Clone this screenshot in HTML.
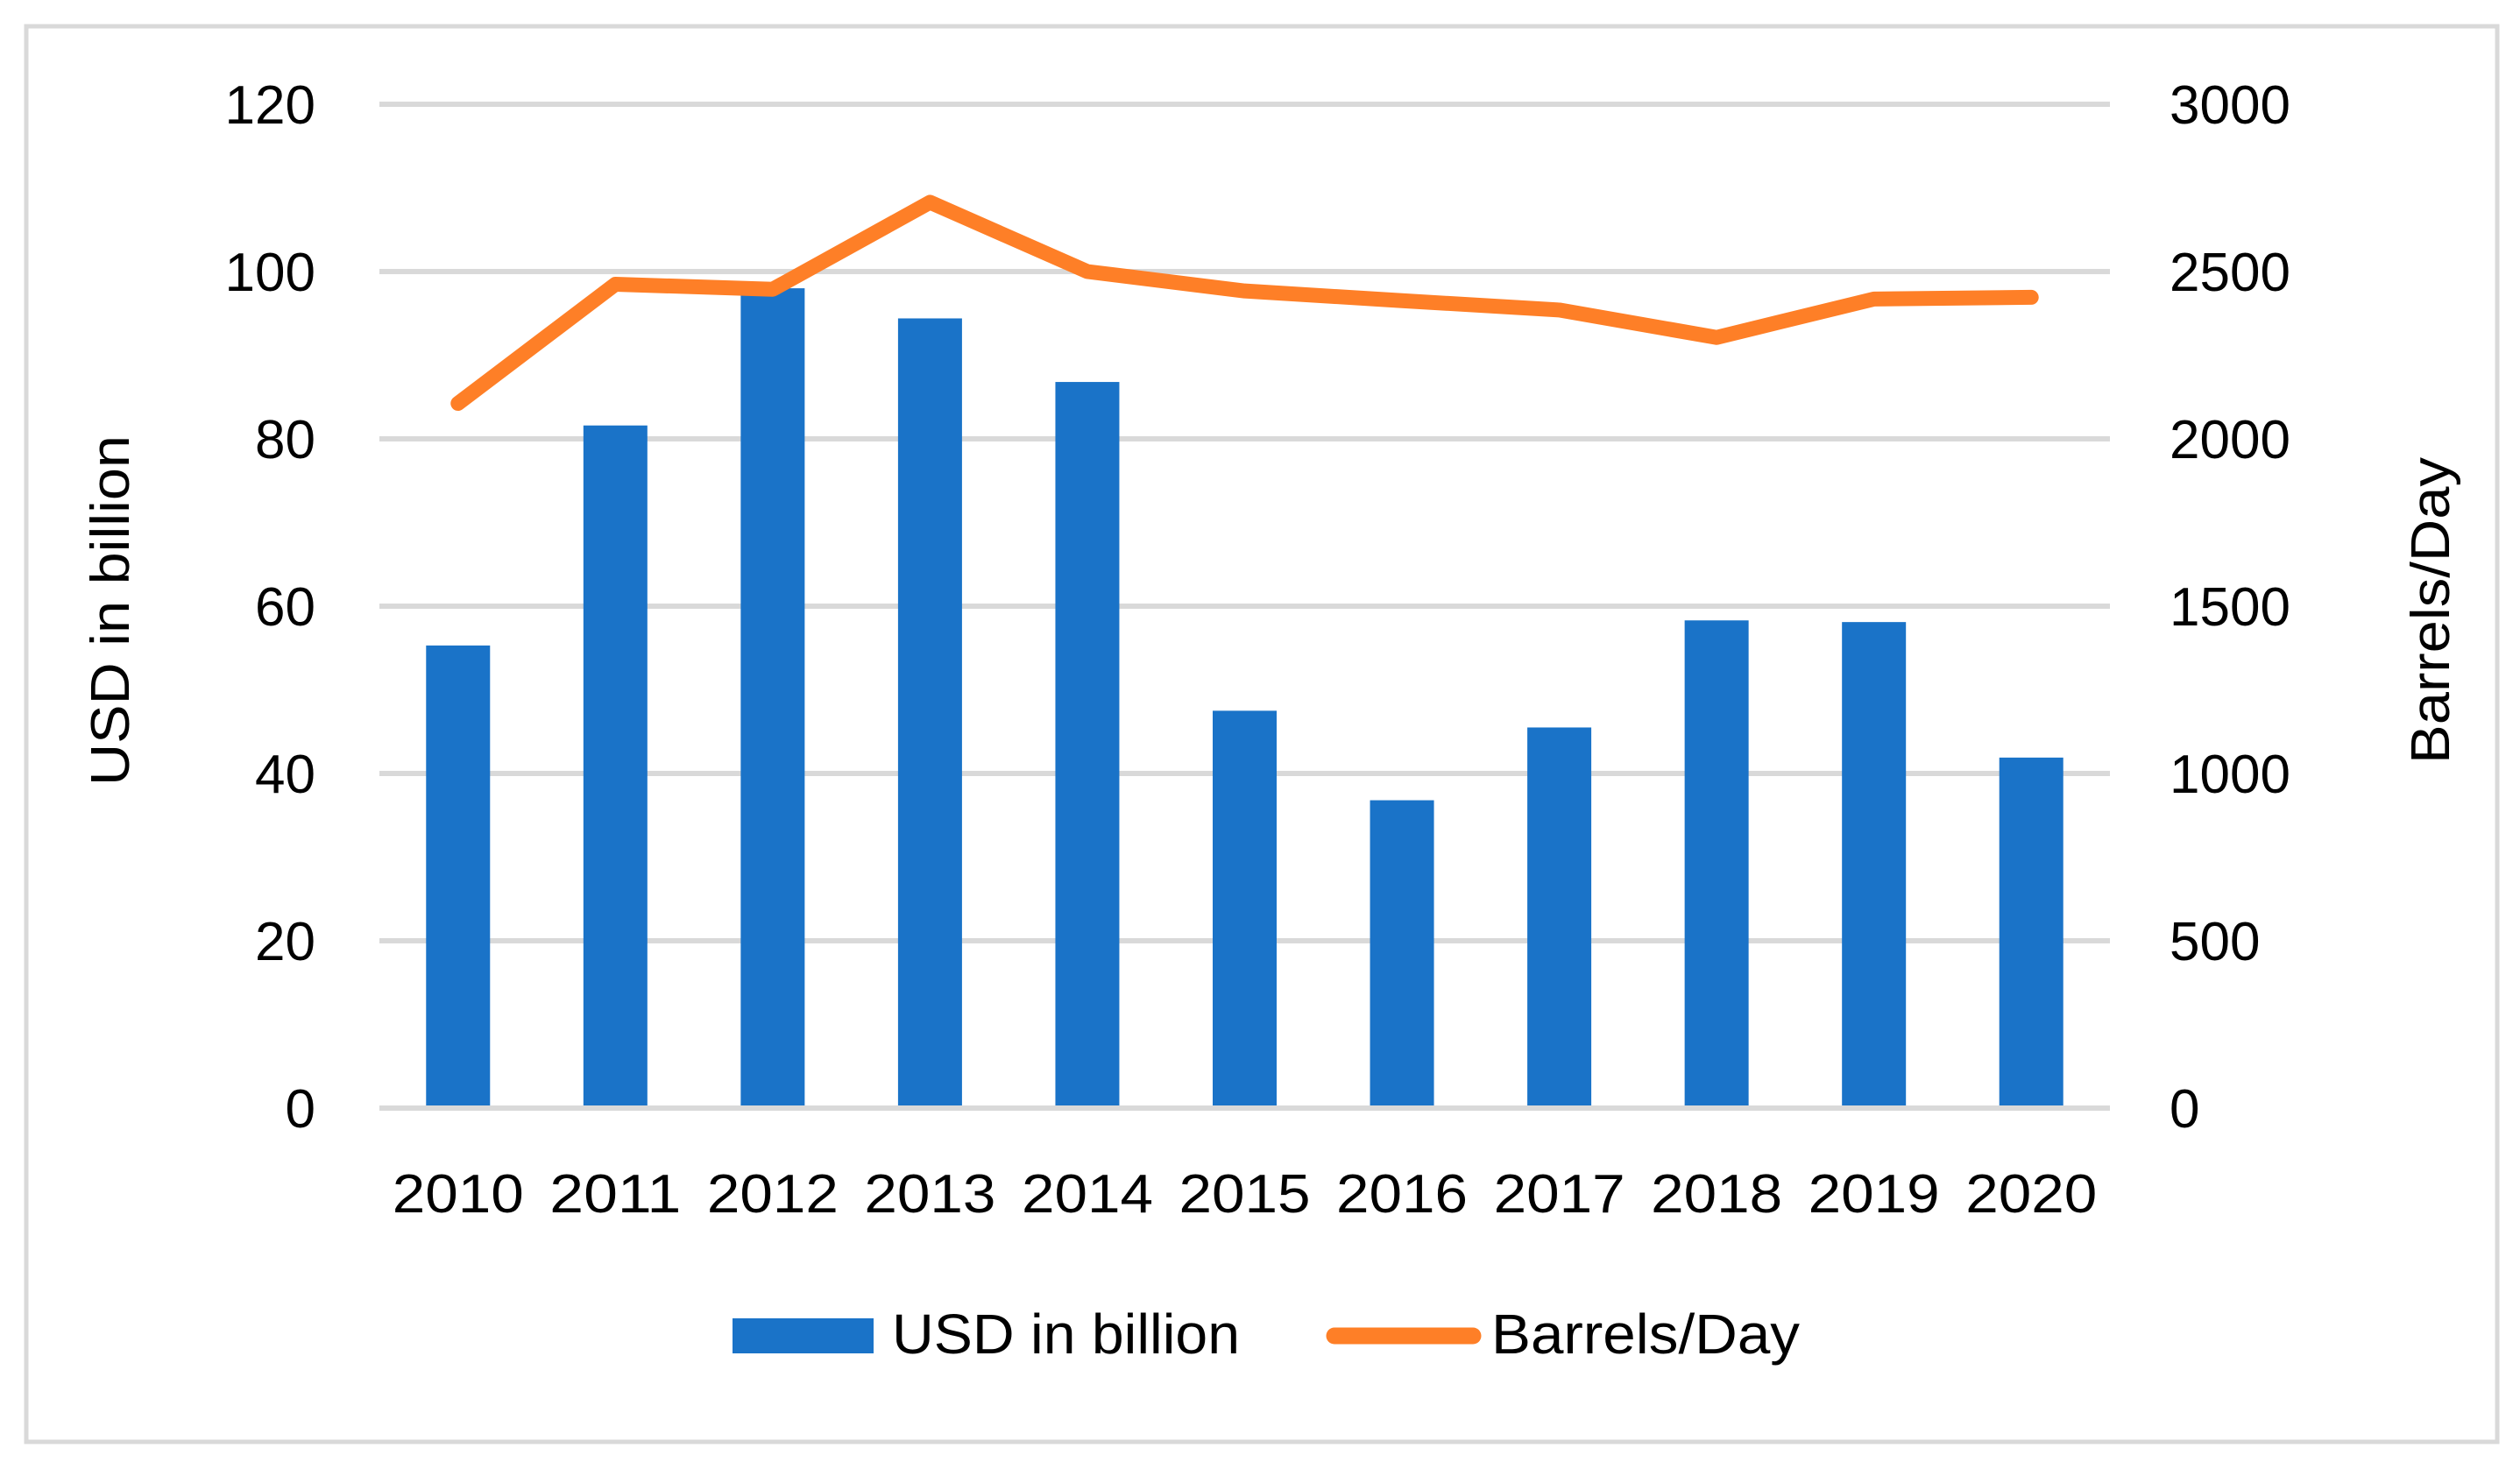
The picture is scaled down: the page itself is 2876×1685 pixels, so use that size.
<!DOCTYPE html>
<html><head><meta charset="utf-8"><style>
html,body{margin:0;padding:0;background:#fff;}
svg{display:block;font-family:"Liberation Sans",sans-serif;}
</style></head><body>
<svg id="chart" width="2876" height="1685" viewBox="0 0 2876 1685" xmlns="http://www.w3.org/2000/svg">
<rect x="30" y="30" width="2820" height="1616" fill="#fff" stroke="#d9d9d9" stroke-width="5"/>
<g id="grid"></g><g id="bars"></g><g id="line"></g><g id="labels"></g>
<text transform="translate(147,697) rotate(-90)" text-anchor="middle" font-size="62" textLength="400" lengthAdjust="spacingAndGlyphs">USD in billion</text>
<text transform="translate(2795,697) rotate(-90)" text-anchor="middle" font-size="62" textLength="350" lengthAdjust="spacingAndGlyphs">Barrels/Day</text>
<g>
<rect x="836" y="1505" width="161" height="40" fill="#1a73c8"/>
<text x="1018" y="1545" font-size="64" textLength="397" lengthAdjust="spacingAndGlyphs">USD in billion</text>
<line x1="1523" y1="1525" x2="1681" y2="1525" stroke="#fe7f27" stroke-width="19" stroke-linecap="round"/>
<text x="1702" y="1545" font-size="64" textLength="352" lengthAdjust="spacingAndGlyphs">Barrels/Day</text>
</g>
</svg>
<script>
const categories=["2010","2011","2012","2013","2014","2015","2016","2017","2018","2019","2020"];
const usdValues=[55.3,81.6,98,94.4,86.8,47.5,36.8,45.5,58.3,58.1,41.9];
const barrelValues=[2106,2462,2447,2707,2500,2442,2413,2385,2303,2418,2423];
const leftTicks=[0,20,40,60,80,100,120];
const rightTicks=[0,500,1000,1500,2000,2500,3000];
const NS="http://www.w3.org/2000/svg";
const x0=433,x1=2408,yTop=119,yBot=1265;
const band=(x1-x0)/categories.length;
const xC=i=>x0+band*(i+0.5);
const yL=v=>yBot-(v/120)*(yBot-yTop);
const yR=v=>yBot-(v/3000)*(yBot-yTop);
function mk(tag,attrs,parent){const e=document.createElementNS(NS,tag);for(const k in attrs)e.setAttribute(k,attrs[k]);document.getElementById(parent).appendChild(e);return e;}
leftTicks.forEach((t,i)=>{
  const g=mk('line',{x1:x0,x2:x1,y1:yL(t),y2:yL(t),stroke:'#d9d9d9','stroke-width':6},'grid');
  
  
  const l=mk('text',{x:360,y:yL(t)+22,'text-anchor':'end','font-size':62},'labels');
  l.textContent=t;
  
  
});
rightTicks.forEach(t=>{
  const l=mk('text',{x:2476,y:yR(t)+22,'text-anchor':'start','font-size':62},'labels');
  l.textContent=t;
  
  
});
const bw=73;
usdValues.forEach((v,i)=>{
  const b=mk('rect',{x:xC(i)-bw/2,y:yL(v),width:bw,height:yBot-yL(v)-3,fill:'#1a73c8'},'bars');
  
  
  const l=mk('text',{x:xC(i),y:1384,'text-anchor':'middle','font-size':62,textLength:150,lengthAdjust:'spacingAndGlyphs'},'labels');
  l.textContent=categories[i];
  
  
});
const pts=barrelValues.map((v,i)=>xC(i)+','+yR(v)).join(' ');
const pl=mk('polyline',{points:pts,fill:'none',stroke:'#fe7f27','stroke-width':17,'stroke-linecap':'round','stroke-linejoin':'round'},'line');


</script>
</body></html>
